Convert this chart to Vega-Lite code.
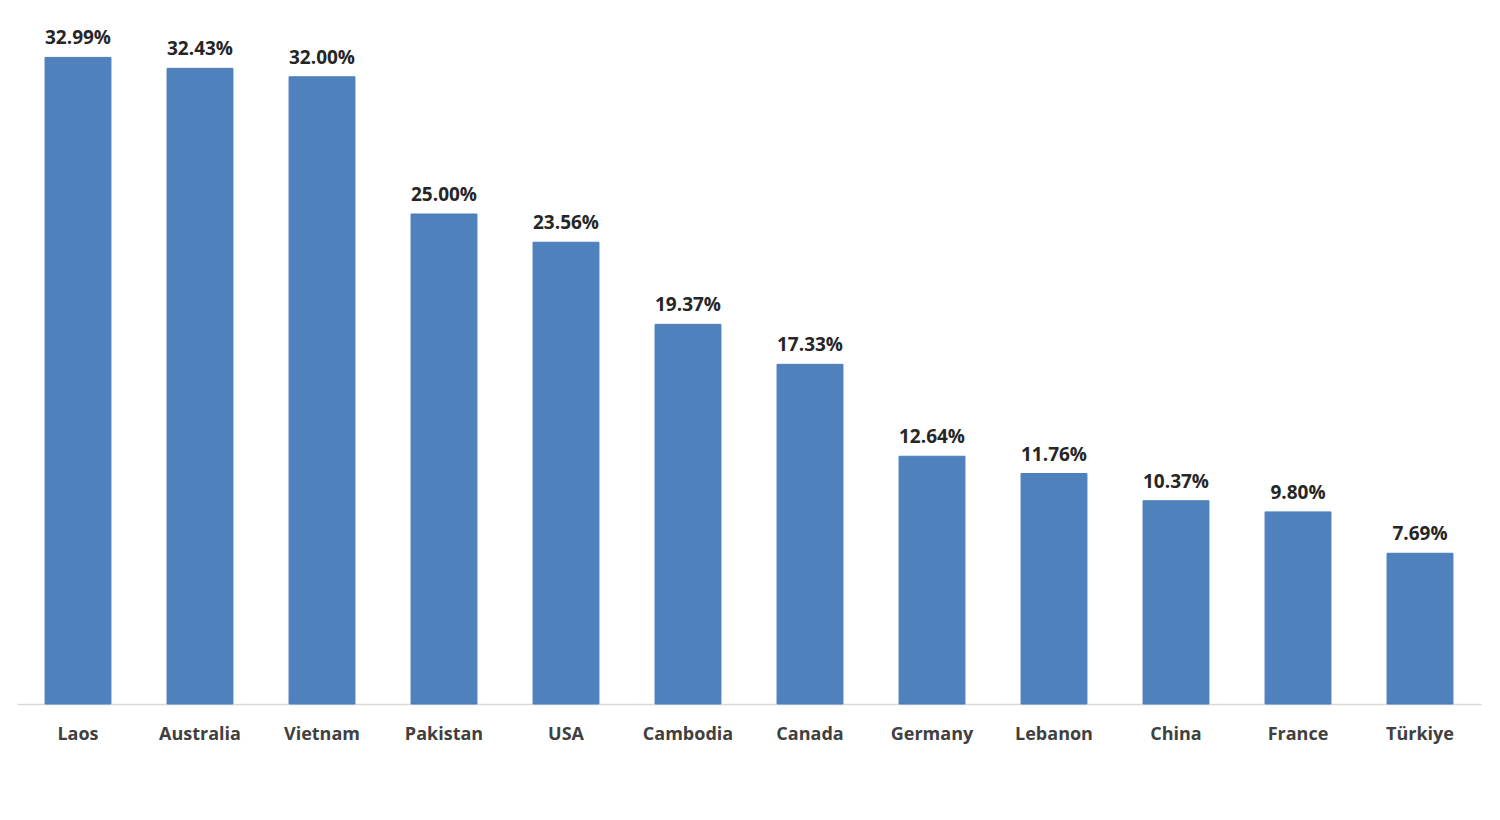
{
  "$schema": "https://vega.github.io/schema/vega-lite/v6.json",
  "autosize": "none",
  "padding": {"left": 17, "top": 18, "right": 19, "bottom": 116},
  "width": 1464,
  "height": 686,
  "background": "white",
  "config": {"view": {"stroke": null}},
  "data": {
    "values": [
      {"country": "Laos", "share": 32.99},
      {"country": "Australia", "share": 32.43},
      {"country": "Vietnam", "share": 32.0},
      {"country": "Pakistan", "share": 25.0},
      {"country": "USA", "share": 23.56},
      {"country": "Cambodia", "share": 19.37},
      {"country": "Canada", "share": 17.33},
      {"country": "Germany", "share": 12.64},
      {"country": "Lebanon", "share": 11.76},
      {"country": "China", "share": 10.37},
      {"country": "France", "share": 9.8},
      {"country": "Türkiye", "share": 7.69}
    ]
  },
  "encoding": {
    "x": {
      "field": "country",
      "type": "nominal",
      "sort": null,
      "scale": {"paddingInner": 0.46, "paddingOuter": 0.23},
      "axis": {
        "title": null,
        "labelAngle": 0,
        "labelFont": "Open Sans",
        "labelFontWeight": "bold",
        "labelFontSize": 18,
        "labelColor": "#404040",
        "labelPadding": 21,
        "ticks": false,
        "domainColor": "#d9d9d9",
        "domainWidth": 1.5
      }
    },
    "y": {
      "field": "share",
      "type": "quantitative",
      "scale": {"domain": [0, 35], "nice": false},
      "axis": null
    }
  },
  "layer": [
    {
      "mark": {"type": "bar", "color": "#4f81bd", "stroke": "#4a7ebb", "strokeWidth": 1}
    },
    {
      "mark": {
        "type": "text",
        "baseline": "alphabetic",
        "dy": -13,
        "font": "Open Sans",
        "fontWeight": "bold",
        "fontSize": 19,
        "color": "#262626",
        "text": {"expr": "format(datum.share, '.2f') + '%'"}
      },
      "encoding": {}
    }
  ]
}
